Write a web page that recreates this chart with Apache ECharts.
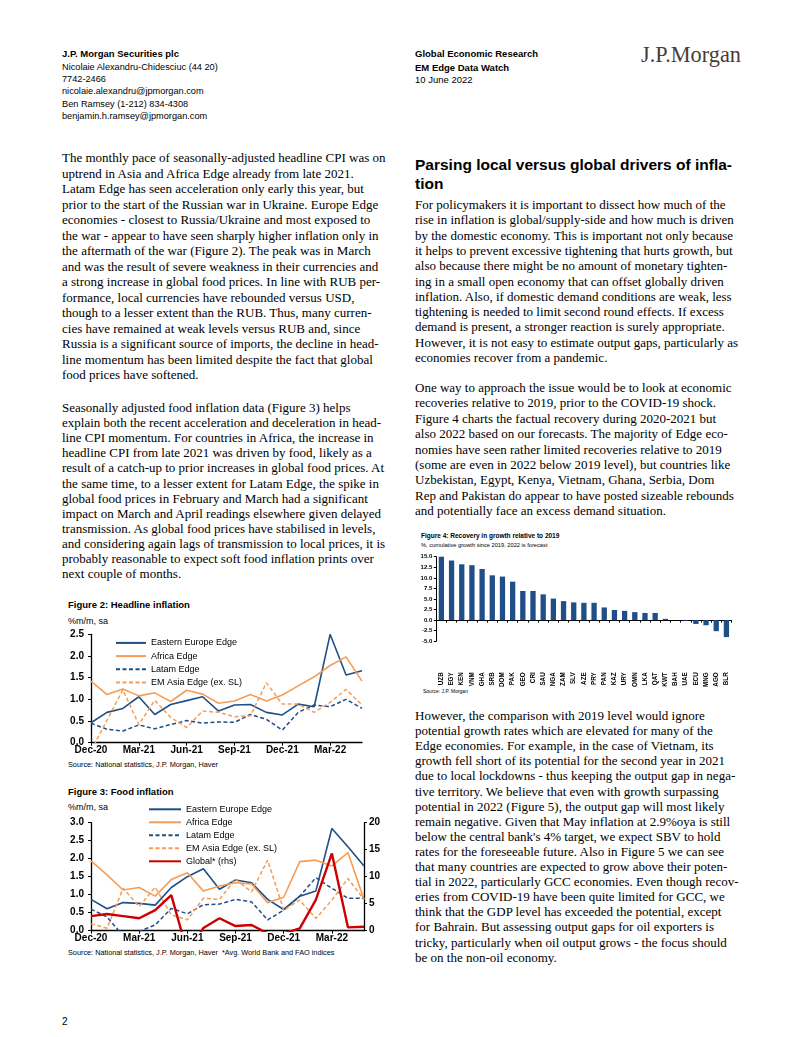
<!DOCTYPE html>
<html><head><meta charset="utf-8">
<script src="https://cdn.jsdelivr.net/npm/echarts@6/dist/echarts.min.js"></script>
<style>
html,body{margin:0;padding:0;background:#fff;}
#page{position:relative;width:802px;height:1037px;overflow:hidden;background:#fff;}
.t{position:absolute;white-space:pre;color:#000;}
.serif{font-family:"Liberation Serif","Times New Roman",serif;font-size:13px;}
.sans{font-family:"Liberation Sans",Arial,sans-serif;}
.chart{position:absolute;}
</style></head><body><div id="page"></div>
<script>
// ---------------- DATA ----------------
const months = ["Dec-20","Jan-21","Feb-21","Mar-21","Apr-21","May-21","Jun-21","Jul-21","Aug-21","Sep-21","Oct-21","Nov-21","Dec-21","Jan-22","Feb-22","Mar-22","Apr-22","May-22"];
// Figure 2: Headline inflation, %m/m sa
const fig2EasternEurope = [0.46,0.70,0.79,1.06,0.65,0.88,0.97,1.06,0.73,0.87,0.88,0.70,0.64,0.89,0.83,2.50,1.56,1.66];
const fig2Africa        = [1.42,1.11,1.24,1.08,1.15,0.95,1.21,1.12,0.91,0.96,1.11,0.96,1.10,1.31,1.52,1.78,1.98,1.42];
const fig2Latam         = [0.45,0.31,0.27,0.41,0.32,0.42,0.51,0.45,0.48,0.47,0.65,0.54,0.29,0.70,0.87,0.83,1.00,0.79];
const fig2EMAsia        = [-0.19,0.52,1.22,0.42,0.98,0.58,0.35,0.73,0.70,0.60,0.62,1.38,0.89,0.89,0.70,0.93,1.23,0.87];
const fig2YTicks = {min:0, max:2.5, step:0.5};
// Figure 3: Food inflation, %m/m sa (Global on rhs)
const fig3EasternEurope = [0.87,0.61,0.78,0.76,0.71,1.20,1.50,1.72,1.15,1.41,1.33,0.87,0.59,0.96,1.10,2.84,2.33,1.80];
const fig3Africa        = [1.94,1.55,1.13,1.20,0.96,1.42,1.61,1.10,1.24,1.33,1.30,0.78,0.93,1.92,1.96,1.80,2.17,0.87];
const fig3Latam         = [0.60,0.38,-0.14,-0.02,0.16,0.62,0.47,0.72,0.74,0.87,0.80,0.30,0.57,0.96,1.47,1.18,0.90,0.90];
const fig3EMAsia        = [0.19,0.07,1.18,0.67,1.21,0.44,0.30,0.90,0.87,1.43,1.08,1.96,0.57,0.85,0.34,0.85,1.45,0.87];
const fig3Global        = [2.7,3.1,2.7,2.3,3.8,6.6,-4.0,0.5,2.3,0.86,1.05,-0.5,-0.5,0.43,5.7,14.3,0.62,0.74];
const fig3YTicks = {min:0, max:3.0, step:0.5};
const fig3Y2Ticks = {min:0, max:20, step:5};
// Figure 4: Recovery in growth relative to 2019
const fig4Countries = ["UZB","EGY","KEN","VNM","GHA","SRB","DOM","PAK","GEO","CRI","SAU","NGA","ZAM","SLV","AZE","PRY","PAN","KAZ","URY","OMN","LKA","QAT","KWT","BAH","UAE","ECU","MNG","AGO","BLR"];
const fig4Growth    = [15.0,14.1,13.2,13.0,12.1,10.6,10.3,9.1,6.9,6.9,6.1,5.1,4.5,4.2,4.1,4.1,3.0,2.4,2.2,1.9,1.7,1.7,0.3,0.0,-0.15,-0.9,-1.2,-2.6,-4.0];
const fig4YTicks = {min:-5, max:15, step:2.5};

// ---------------- TEXT ----------------
const page = document.getElementById('page');
function addLines(lines, x, y0, step, cls, style){
  return lines.map((s,i)=>{
    const d=document.createElement('div');
    d.className='t '+cls;
    d.textContent=s;
    const lh=20;
    d.style.left=x+'px';
    d.style.top=(y0+i*step-lh/2)+'px';
    d.style.lineHeight=lh+'px';
    if(style) Object.assign(d.style, style);
    page.appendChild(d);
    return d;
  });
}
const hdr={fontSize:'9.2px'};
addLines(["J.P. Morgan Securities plc"],62,54,0,'sans',{fontSize:'9.5px',fontWeight:'bold'});
addLines(["Nicolaie Alexandru-Chidesciuc (44 20)","7742-2466","nicolaie.alexandru@jpmorgan.com"],62,67,12,'sans',hdr);
addLines(["Ben Ramsey (1-212) 834-4308","benjamin.h.ramsey@jpmorgan.com"],62,104,12,'sans',hdr);
addLines(["Global Economic Research","EM Edge Data Watch"],415,54,13.5,'sans',{fontSize:'9.5px',fontWeight:'bold'});
addLines(["10 June 2022"],415,80,0,'sans',{fontSize:'9.5px'});
addLines(["J.P.Morgan"],641,55,0,'serif',{fontSize:'22.3px',color:'#4a3b34',letterSpacing:'0px'});

addLines([
"The monthly pace of seasonally-adjusted headline CPI was on",
"uptrend in Asia and Africa Edge already from late 2021.",
"Latam Edge has seen acceleration only early this year, but",
"prior to the start of the Russian war in Ukraine. Europe Edge",
"economies - closest to Russia/Ukraine and most exposed to",
"the war - appear to have seen sharply higher inflation only in",
"the aftermath of the war (Figure 2). The peak was in March",
"and was the result of severe weakness in their currencies and",
"a strong increase in global food prices. In line with RUB per-",
"formance, local currencies have rebounded versus USD,",
"though to a lesser extent than the RUB. Thus, many curren-",
"cies have remained at weak levels versus RUB and, since",
"Russia is a significant source of imports, the decline in head-",
"line momentum has been limited despite the fact that global",
"food prices have softened."],62,158,15.5,'serif');
addLines([
"Seasonally adjusted food inflation data (Figure 3) helps",
"explain both the recent acceleration and deceleration in head-",
"line CPI momentum. For countries in Africa, the increase in",
"headline CPI from late 2021 was driven by food, likely as a",
"result of a catch-up to prior increases in global food prices. At",
"the same time, to a lesser extent for Latam Edge, the spike in",
"global food prices in February and March had a significant",
"impact on March and April readings elsewhere given delayed",
"transmission. As global food prices have stabilised in levels,",
"and considering again lags of transmission to local prices, it is",
"probably reasonable to expect soft food inflation prints over",
"next couple of months."],62,408,15.1,'serif');

addLines(["Parsing local versus global drivers of infla-","tion"],415,165,19,'sans',{fontSize:'15.5px',fontWeight:'bold'});
addLines([
"For policymakers it is important to dissect how much of the",
"rise in inflation is global/supply-side and how much is driven",
"by the domestic economy. This is important not only because",
"it helps to prevent excessive tightening that hurts growth, but",
"also because there might be no amount of monetary tighten-",
"ing in a small open economy that can offset globally driven",
"inflation. Also, if domestic demand conditions are weak, less",
"tightening is needed to limit second round effects. If excess",
"demand is present, a stronger reaction is surely appropriate.",
"However, it is not easy to estimate output gaps, particularly as",
"economies recover from a pandemic."],415,205,15.3,'serif');
addLines([
"One way to approach the issue would be to look at economic",
"recoveries relative to 2019, prior to the COVID-19 shock.",
"Figure 4 charts the factual recovery during 2020-2021 but",
"also 2022 based on our forecasts. The majority of Edge eco-",
"nomies have seen rather limited recoveries relative to 2019",
"(some are even in 2022 below 2019 level), but countries like",
"Uzbekistan, Egypt, Kenya, Vietnam, Ghana, Serbia, Dom",
"Rep and Pakistan do appear to have posted sizeable rebounds",
"and potentially face an excess demand situation."],415,388,15.4,'serif');
addLines([
"However, the comparison with 2019 level would ignore",
"potential growth rates which are elevated for many of the",
"Edge economies. For example, in the case of Vietnam, its",
"growth fell short of its potential for the second year in 2021",
"due to local lockdowns - thus keeping the output gap in nega-",
"tive territory. We believe that even with growth surpassing",
"potential in 2022 (Figure 5), the output gap will most likely",
"remain negative. Given that May inflation at 2.9%oya is still",
"below the central bank's 4% target, we expect SBV to hold",
"rates for the foreseeable future. Also in Figure 5 we can see",
"that many countries are expected to grow above their poten-",
"tial in 2022, particularly GCC economies. Even though recov-",
"eries from COVID-19 have been quite limited for GCC, we",
"think that the GDP level has exceeded the potential, except",
"for Bahrain. But assessing output gaps for oil exporters is",
"tricky, particularly when oil output grows - the focus should",
"be on the non-oil economy."],415,716,15.1,'serif');

addLines(["Figure 2: Headline inflation"],68,605,0,'sans',{fontSize:'9.5px',fontWeight:'bold'});
addLines(["%m/m, sa"],68,621,0,'sans',{fontSize:'9px'});
addLines(["Source: National statistics, J.P. Morgan, Haver"],68,765,0,'sans',{fontSize:'7.3px'});
addLines(["Figure 3: Food inflation"],68,792,0,'sans',{fontSize:'9.5px',fontWeight:'bold'});
addLines(["%m/m, sa"],68,807,0,'sans',{fontSize:'9px'});
addLines(["Source: National statistics, J.P. Morgan, Haver  *Avg. World Bank and FAO indices"],68,953,0,'sans',{fontSize:'7.3px'});
addLines(["Figure 4: Recovery in growth relative to 2019"],421,536,0,'sans',{fontSize:'6.5px',fontWeight:'bold'});
addLines(["%, cumulative growth since 2019, 2022 is forecast"],421,545,0,'sans',{fontSize:'5.7px'});
addLines(["Source: J.P. Morgan"],423,691,0,'sans',{fontSize:'5px'});
addLines(["2"],62,1022,0,'sans',{fontSize:'10px'});

// ---------------- CHARTS ----------------
const NAVY='#1f4e89', ORANGE='#f59d56', RED='#cc0000';
const FONT='"Liberation Sans", Arial, sans-serif';
function mkDiv(l,t,w,h){const d=document.createElement('div');d.className='chart';Object.assign(d.style,{left:l+'px',top:t+'px',width:w+'px',height:h+'px'});page.appendChild(d);return d;}
function lineSeries(name,data,color,dashed,width,yIdx){
  return {name,type:'line',data,yAxisIndex:yIdx||0,symbol:'none',showSymbol:false,clip:true,
    lineStyle:{color,width:width||1.5,type:dashed?[4,2.5]:'solid'},itemStyle:{color},z:yIdx?5:2};
}
const axisLineBlack={show:true,onZero:false,lineStyle:{color:'#000',width:1.3}};
const tickLabel={color:'#000',fontFamily:FONT,fontWeight:'bold',fontSize:10};
const legendCommon={orient:'vertical',padding:0,itemHeight:9,
  itemStyle:{color:'rgba(0,0,0,0)',borderColor:'rgba(0,0,0,0)',borderWidth:0,opacity:0},
  textStyle:{fontFamily:FONT,fontSize:9,color:'#000',lineHeight:9}};

// Figure 2
const c2=echarts.init(mkDiv(60,625,320,140));
c2.setOption({
  animation:false,
  grid:{left:31,top:9.3,width:271,height:108.4},
  legend:Object.assign({left:55,top:13.4,itemWidth:30,itemGap:4.2,
    data:['Eastern Europe Edge','Africa Edge','Latam Edge','EM Asia Edge (ex. SL)']},legendCommon),
  xAxis:{type:'category',data:months,boundaryGap:false,axisLine:axisLineBlack,
    axisTick:{show:true,interval:2,length:3,lineStyle:{color:'#000'}},
    axisLabel:Object.assign({interval:2,margin:3},tickLabel)},
  yAxis:{type:'value',min:fig2YTicks.min,max:fig2YTicks.max,interval:fig2YTicks.step,axisLine:axisLineBlack,
    axisTick:{show:true,length:3,lineStyle:{color:'#000'}},splitLine:{show:false},
    axisLabel:Object.assign({margin:7,formatter:v=>v.toFixed(1)},tickLabel)},
  series:[
    lineSeries('Eastern Europe Edge',fig2EasternEurope,NAVY,false,1.6),
    lineSeries('Africa Edge',fig2Africa,ORANGE,false,1.6),
    lineSeries('Latam Edge',fig2Latam,NAVY,true,1.5),
    lineSeries('EM Asia Edge (ex. SL)',fig2EMAsia,ORANGE,true,1.5)
  ]
});

// Figure 3
const c3=echarts.init(mkDiv(60,800,330,150));
c3.setOption({
  animation:false,
  grid:{left:31,top:22.7,width:273,height:108},
  legend:Object.assign({left:88,top:4.8,itemWidth:32,itemGap:4,
    data:['Eastern Europe Edge','Africa Edge','Latam Edge','EM Asia Edge (ex. SL)','Global* (rhs)']},legendCommon),
  xAxis:{type:'category',data:months,boundaryGap:false,axisLine:axisLineBlack,
    axisTick:{show:true,interval:2,length:3,lineStyle:{color:'#000'}},
    axisLabel:Object.assign({interval:2,margin:3},tickLabel)},
  yAxis:[
    {type:'value',min:fig3YTicks.min,max:fig3YTicks.max,interval:fig3YTicks.step,axisLine:axisLineBlack,
     axisTick:{show:true,length:3,lineStyle:{color:'#000'}},splitLine:{show:false},
     axisLabel:Object.assign({margin:7,formatter:v=>v.toFixed(1)},tickLabel)},
    {type:'value',position:'right',min:fig3Y2Ticks.min,max:fig3Y2Ticks.max,interval:fig3Y2Ticks.step,axisLine:axisLineBlack,
     axisTick:{show:true,length:3,lineStyle:{color:'#000'}},splitLine:{show:false},
     axisLabel:Object.assign({margin:5},tickLabel)}
  ],
  series:[
    lineSeries('Eastern Europe Edge',fig3EasternEurope,NAVY,false,1.6),
    lineSeries('Africa Edge',fig3Africa,ORANGE,false,1.6),
    lineSeries('Latam Edge',fig3Latam,NAVY,true,1.5),
    lineSeries('EM Asia Edge (ex. SL)',fig3EMAsia,ORANGE,true,1.5),
    lineSeries('Global* (rhs)',fig3Global,RED,false,2.4,1)
  ]
});

// Figure 4
const c4=echarts.init(mkDiv(410,550,330,140));
c4.setOption({
  animation:false,
  grid:{left:26.3,top:6.7,width:295.2,height:114},
  xAxis:{type:'category',data:fig4Countries,axisLine:{show:true,onZero:true,lineStyle:{color:'#000',width:1}},
    axisTick:{show:true,interval:0,length:2.5,alignWithLabel:false,lineStyle:{color:'#000'}},
    axisLabel:{interval:0,rotate:90,margin:31,color:'#000',fontFamily:FONT,fontWeight:'bold',fontSize:6.3}},
  yAxis:{type:'value',min:fig4YTicks.min,max:fig4YTicks.max,interval:fig4YTicks.step,
    axisLine:{show:true,onZero:false,lineStyle:{color:'#000',width:1}},
    axisTick:{show:true,length:2.5,lineStyle:{color:'#000'}},splitLine:{show:false},
    axisLabel:{margin:4,color:'#000',fontFamily:FONT,fontWeight:'bold',fontSize:6,formatter:v=>v.toFixed(1)}},
  series:[{type:'bar',data:fig4Growth,barWidth:'52%',itemStyle:{color:NAVY}}]
});
</script></body></html>
